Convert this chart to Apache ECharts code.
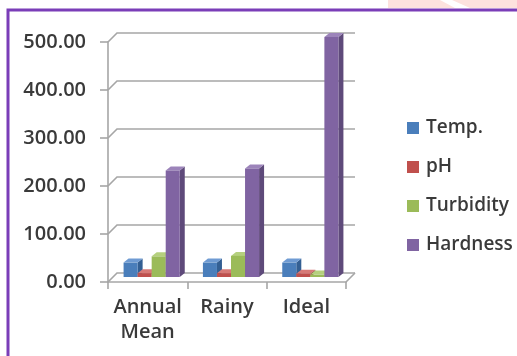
<!DOCTYPE html>
<html>
<head>
<meta charset="utf-8">
<script src="https://cdn.jsdelivr.net/npm/echarts@6/dist/echarts.min.js"></script>
<style>
  html, body { margin: 0; padding: 0; background: #fff; }
  #wrap { width: 517px; height: 356px; }
</style>
</head>
<body>
<div id="wrap"></div>
<script>
var categories = ['Annual\nMean', 'Rainy', 'Ideal'];
var seriesNames = ['Temp.', 'pH', 'Turbidity', 'Hardness'];
var tempValues = [30, 30, 30];
var phValues = [8, 8, 7];
var turbidityValues = [43, 44, 5];
var hardnessValues = [222, 226, 500];
var yTicks = [0, 100, 200, 300, 400, 500];

// front, top, side shades (office palette)
var shades = [
  ['#4a7ebb', '#6f9bd3', '#335f93'],
  ['#c0504d', '#d77a77', '#963c3a'],
  ['#9bbb59', '#b5d07e', '#779343'],
  ['#8064a2', '#9c84ba', '#5e4a7a']
];

var WALL_DX = 9, WALL_DY = 9;   // back wall offset
var BAR_DX = 4, BAR_DY = 5;     // bar set back from floor front
var DEPTH_X = 5, DEPTH_Y = 4;   // bar depth

function barRenderer(idx) {
  return function (params, api) {
    var top = api.coord([api.value(0), api.value(1)]);
    var base = api.coord([api.value(0), 0]);
    var band = api.size([1, 0])[0];
    var bw = band * 0.177;
    var x0 = base[0] - 2 * bw + idx * bw + BAR_DX;
    var yT = top[1] - BAR_DY;
    var yB = base[1] - BAR_DY;
    var c = shades[idx];
    return {
      type: 'group',
      children: [
        { type: 'polygon', shape: { points: [[x0 + bw, yT], [x0 + bw + DEPTH_X, yT - DEPTH_Y], [x0 + bw + DEPTH_X, yB - DEPTH_Y], [x0 + bw, yB]] }, style: { fill: c[2] } },
        { type: 'polygon', shape: { points: [[x0, yT], [x0 + DEPTH_X, yT - DEPTH_Y], [x0 + bw + DEPTH_X, yT - DEPTH_Y], [x0 + bw, yT]] }, style: { fill: c[1] } },
        { type: 'rect', shape: { x: x0, y: yT, width: bw, height: yB - yT }, style: { fill: c[0] } }
      ]
    };
  };
}

function wallRenderer(params, api) {
  var p = api.coord([0, api.value(1)]);
  var band = api.size([1, 0])[0];
  var left = p[0] - band / 2;
  var right = left + band * categories.length;
  var y = p[1];
  var lines = [{
    type: 'polyline',
    shape: { points: [[left, y], [left + WALL_DX, y - WALL_DY], [right + WALL_DX, y - WALL_DY]] },
    style: { stroke: '#a6a6a6', lineWidth: 1.6, fill: null }
  }];
  if (api.value(1) === 0) {
    lines.push({
      type: 'line',
      shape: { x1: right, y1: y, x2: right + WALL_DX, y2: y - WALL_DY },
      style: { stroke: '#a6a6a6', lineWidth: 1.6 }
    });
  }
  return { type: 'group', children: lines };
}

var valueSets = [tempValues, phValues, turbidityValues, hardnessValues];

var series = [{
  name: 'wall',
  type: 'custom',
  renderItem: wallRenderer,
  data: yTicks.map(function (v) { return [0, v]; }),
  encode: { x: 0, y: 1 },
  silent: true,
  z: 1
}];
valueSets.forEach(function (vals, i) {
  series.push({
    name: seriesNames[i],
    type: 'custom',
    renderItem: barRenderer(i),
    itemStyle: { color: shades[i][0] },
    data: vals.map(function (v, k) { return [k, v]; }),
    encode: { x: 0, y: 1 },
    z: 2 + i
  });
});

var textColor = '#3a3a3a';
var font = '"Open Sans", sans-serif';

var option = {
  animation: false,
  backgroundColor: '#ffffff',
  color: shades.map(function (s) { return s[0]; }),
  graphic: [
    { type: 'rect', shape: { x: 388, y: 0, width: 129, height: 8 }, style: { fill: '#fde2de' }, z: 0 },
    { type: 'polygon', shape: { points: [[440, 0], [452, 0], [470, 8], [455, 8]] }, style: { fill: '#ffffff' }, z: 0 },
    { type: 'polyline', shape: { points: [[8, 356], [8, 10], [517, 10]] }, style: { stroke: '#7a3db8', lineWidth: 3, fill: null }, z: 10 }
  ],
  legend: {
    data: seriesNames,
    orient: 'vertical',
    left: 402,
    top: 113,
    itemWidth: 12,
    itemHeight: 12,
    itemGap: 19,
    icon: 'rect',
    textStyle: { fontFamily: font, fontSize: 19, fontWeight: 600, color: textColor, lineHeight: 20, padding: [0, 0, 0, 2] }
  },
  grid: {
    left: 108,
    right: 171,
    top: 42,
    bottom: 74
  },
  xAxis: {
    type: 'category',
    data: categories,
    axisLine: { show: true, lineStyle: { color: '#a6a6a6', width: 1.6 } },
    axisTick: { show: true, length: 7, lineStyle: { color: '#a6a6a6', width: 1.6 } },
    axisLabel: { interval: 0, fontFamily: font, fontSize: 20, fontWeight: 600, color: textColor, lineHeight: 25, margin: 13 },
    splitLine: { show: false }
  },
  yAxis: {
    type: 'value',
    min: 0,
    max: 500,
    interval: 100,
    axisLine: { show: true, lineStyle: { color: '#a6a6a6', width: 1.6 } },
    axisTick: { show: true, length: 8, lineStyle: { color: '#a6a6a6', width: 1.6 } },
    axisLabel: {
      fontFamily: font, fontSize: 20, fontWeight: 600, color: textColor, margin: 22,
      formatter: function (v) { return v.toFixed(2); }
    },
    splitLine: { show: false }
  },
  series: series
};

var myChart = echarts.init(document.getElementById('wrap'));
myChart.setOption(option);
</script>
</body>
</html>
